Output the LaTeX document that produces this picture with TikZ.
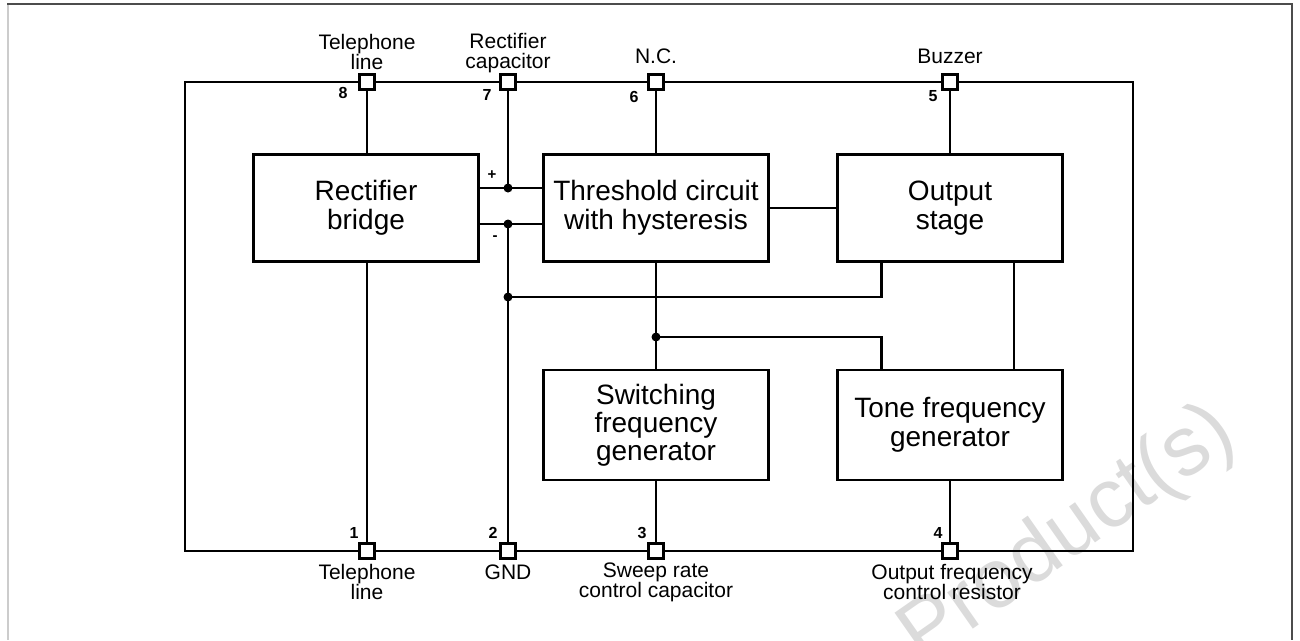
\documentclass[tikz,border=0pt]{standalone}
\usepackage{fontspec}
\setmainfont{Liberation Sans}
\begin{document}
\begin{tikzpicture}[x=1pt,y=-1pt,
  blk/.style={draw, line width=2.3pt, minimum width=225pt, minimum height=107pt, inner sep=0pt, align=center, font=\fontsize{28}{29.5}\selectfont},
  pinbox/.style={draw, fill=white, line width=2.3pt, minimum size=15pt, inner sep=0pt},
  wire/.style={line width=2.3pt},
  lbl/.style={font=\fontsize{21}{20}\selectfont, align=center, inner sep=0pt},
  num/.style={font=\bfseries\fontsize{16}{16}\selectfont, inner sep=0pt},
  jdot/.style={circle, fill, inner sep=0pt, minimum size=9pt},
  wm/.style={font=\fontsize{84}{84}\selectfont, text=black!14, inner sep=0pt},
]
\useasboundingbox (0,0) rectangle (1300,640);
% watermark
\node[wm, rotate=35, anchor=base east] (wmark) at (1240,442) {Product(s)};
% outer frame
\draw[line width=1.2pt, black!20] (8,4) -- (8,640);
\draw[line width=2.5pt, black!70] (7,4) -- (1292,4) -- (1292,640);
% chip outline
\node[draw, line width=2.3pt, minimum width=948pt, minimum height=469pt, inner sep=0pt] (chip) at (659,316.5) {};
% blocks
\node[blk] (rect) at (366,208) {Rectifier\\bridge};
\node[blk] (thr) at (656,208) {Threshold circuit\\with hysteresis};
\node[blk] (out) at (950,208) {Output\\stage};
\node[blk, minimum height=110pt, font=\fontsize{28}{28}\selectfont] (sw) at (656,425) {Switching\\frequency\\generator};
\node[blk, minimum height=110pt] (tone) at (950,425) {Tone frequency\\generator};
% pins
\node[pinbox] (p8) at (367,82) {};
\node[pinbox] (p7) at (508,82) {};
\node[pinbox] (p6) at (656,82) {};
\node[pinbox] (p5) at (950,82) {};
\node[pinbox] (p1) at (367,551) {};
\node[pinbox] (p2) at (508,551) {};
\node[pinbox] (p3) at (656,551) {};
\node[pinbox] (p4) at (950,551) {};
% junctions
\node[jdot] (dplus) at (508,188) {};
\node[jdot] (dminus) at (508,224) {};
\node[jdot] (dgnd) at (508,297) {};
\node[jdot] (dsw) at (656,337) {};
% wires
\draw[wire] (p8) -- (p8 |- rect.north);
\draw[wire] (p1) -- (p1 |- rect.south);
\draw[wire] (p7) -- (dplus.center);
\draw[wire] (rect.east |- dplus) -- (thr.west |- dplus);
\draw[wire] (rect.east |- dminus) -- (thr.west |- dminus);
\draw[wire] (dminus.center) -- (p2);
\draw[wire] (dgnd.center) -| ([xshift=45pt]out.south west);
\draw[wire] (p6) -- (thr.north);
\draw[wire] (p5) -- (out.north);
\draw[wire] (thr.east) -- (out.west);
\draw[wire] (thr.south) -- (sw.north);
\draw[wire] (dsw.center) -| ([xshift=45pt]tone.north west);
\draw[wire] ([xshift=-50pt]out.south east) -- ([xshift=-50pt]tone.north east);
\draw[wire] (sw.south) -- (p3);
\draw[wire] (tone.south) -- (p4);
% redraw pins on top
\foreach \p in {p8,p7,p6,p5,p1,p2,p3,p4}{\node[pinbox] at (\p) {};}
% polarity
\node[num, font=\bfseries\fontsize{15}{15}\selectfont] (plus) at (492,175) {+};
\node[num, font=\bfseries\fontsize{15}{15}\selectfont] (minus) at (495,238) {-};
% pin numbers
\node[num] (n8) at (343,93) {8};
\node[num] (n7) at (487,95) {7};
\node[num] (n6) at (634,97) {6};
\node[num] (n5) at (933,96) {5};
\node[num] (n1) at (354,533) {1};
\node[num] (n2) at (493,533) {2};
\node[num] (n3) at (642,533) {3};
\node[num] (n4) at (938,533) {4};
% pin labels
\node[lbl] (l8) at (367,52) {Telephone\\line};
\node[lbl] (l7) at (508,53) {Rectifier\\capacitor};
\node[lbl] (l6) at (656,56) {N.C.};
\node[lbl] (l5) at (950,56) {Buzzer};
\node[lbl] (l1) at (367,582) {Telephone\\line};
\node[lbl] (l2) at (508,572) {GND};
\node[lbl] (l3) at (656,582) {Sweep rate\\control capacitor};
\node[lbl] (l4) at (952,582) {Output frequency\\control resistor};
\end{tikzpicture}
\end{document}
